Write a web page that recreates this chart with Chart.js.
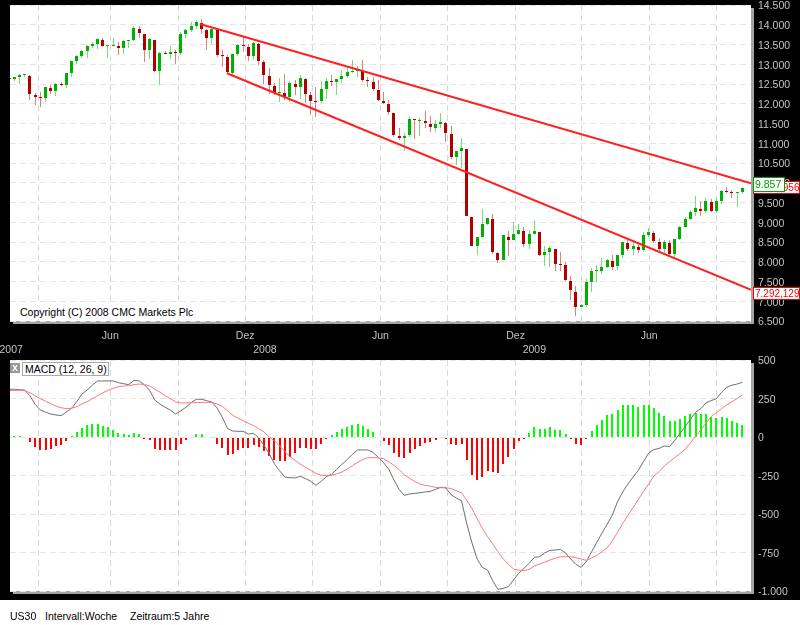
<!DOCTYPE html>
<html>
<head>
<meta charset="utf-8">
<title>US30</title>
<script src="https://cdn.jsdelivr.net/npm/chart.js@4"></script>
<style>
  html, body { margin: 0; padding: 0; width: 800px; height: 625px; overflow: hidden; background: #fff; }
  body { font-family: "Liberation Sans", sans-serif; font-size: 10.5px; color: #000; }
  #dark { position: absolute; left: 0; top: 0; width: 800px; height: 600px; background: #000; }
  canvas { position: absolute; left: 0; }
  #priceChart { top: 0; }
  #macdChart { top: 355px; }
  .txt { position: absolute; white-space: nowrap; }
  #copyright { left: 19px; top: 305px; padding: 0 2px 0 1px; background: #fff; font-size: 10.5px; line-height: 14px; }
  #macdClose { left: 10px; top: 363px; width: 10px; height: 10px; background: #999; color: #fff; font-size: 10px; line-height: 10px; text-align: center; font-weight: bold; }
  #macdName { left: 22px; top: 362px; height: 12px; line-height: 12px; padding: 0 1px 0 2px; background: #fff; border: 1px solid #aaa; }
  .foot { top: 610px; font-size: 10.5px; line-height: 13px; }
</style>
</head>
<body>
<div id="dark"></div>
<canvas id="priceChart" width="800" height="355"></canvas>
<canvas id="macdChart" width="800" height="245"></canvas>
<div class="txt" id="copyright">Copyright (C) 2008 CMC Markets Plc</div>
<div class="txt" id="macdClose">x</div>
<div class="txt" id="macdName">MACD (12, 26, 9)</div>
<div class="txt foot" style="left:10px">US30</div>
<div class="txt foot" style="left:45px">Intervall:Woche</div>
<div class="txt foot" style="left:130px">Zeitraum:5 Jahre</div>

<script>
// weekly candles
const opens = [12635,12627,12678,12728,12703,12222,12171,12146,12399,12323,12500,12475,12779,13083,13209,13336,13462,13513,13614,13462,13462,13462,13412,13589,13614,13893,13766,13361,13614,12830,13285,13260,13310,13285,13766,13867,13969,14045,13867,13665,13867,13235,13184,12779,13260,13488,13437,13209,13513,13057,12702,12449,12272,12272,12171,12500,12424,12627,12221,12070,12070,12373,12576,12551,12627,12702,12804,12829,12829,12601,12551,12348,12070,11994,11766,11183,11133,11209,11614,11563,11563,11487,11386,11487,11513,11234,10652,10804,10854,9125,8407,8635,8956,9082,8213,8053,8618,8551,8703,8770,8449,8703,8753,8171,8247,8314,7943,7918,7513,7234,6863,6897,7487,7766,7766,7867,8011,7892,8171,8475,8323,8373,8298,8669,8728,8492,8323,8475,8196,8576,8880,9082,9260,9335,9285,9513,9285,9538,9791,9766,9749,9766];
const closes = [12644,12678,12728,12754,12247,12171,12154,12424,12323,12500,12475,12779,13083,13209,13336,13462,13513,13640,13462,13488,13488,13412,13589,13614,13918,13792,13361,13640,12830,13285,13260,13310,13285,13766,13867,13969,14070,13893,13665,13893,13235,13209,12804,13260,13488,13462,13209,13538,13083,12728,12475,12272,12297,12171,12525,12424,12652,12247,12070,12044,12373,12576,12551,12627,12702,12804,12829,12854,12601,12576,12373,12095,12019,11791,11209,11133,11183,11614,11589,11589,11513,11411,11487,11538,11259,10652,10804,10880,9167,8407,8618,8947,9099,8255,8044,8669,8551,8694,8795,8458,8703,8770,8171,8238,8340,7952,7926,7538,7285,6863,6897,7487,7757,7791,7859,8044,7876,8163,8500,8323,8390,8298,8669,8753,8525,8323,8500,8196,8576,8880,9082,9260,9361,9285,9530,9285,9530,9791,9766,9749,9766,9857];
const highs = [12644,12678,12754,12754,12728,12273,12298,12424,12475,12526,12551,12779,13083,13235,13361,13488,13564,13665,13665,13488,13665,13564,13614,13614,13969,13969,13766,13665,13614,13310,13336,13462,13361,13817,13893,14070,14121,14146,13893,13893,13867,13361,13235,13260,13513,13716,13513,13564,13538,13107,12905,12525,12652,12753,12576,12601,12728,12652,12297,12424,12576,12652,12728,12627,12854,12930,13107,12956,13107,12677,12677,12601,12297,12095,11766,11386,11259,11665,11614,11639,11816,11690,11589,11766,11538,11437,10804,11133,10854,9125,8618,9327,9099,9209,8255,8686,8787,8998,8956,8888,8804,9049,8753,8399,8399,8331,8238,7994,7631,7378,6922,7563,7850,7918,8087,8078,8171,8179,8508,8551,8551,8508,8753,8846,8770,8593,8551,8551,8576,8905,9141,9310,9665,9530,9606,9580,9606,9817,9884,9817,9766,9892];
const lows = [12626,12576,12500,12678,12095,11969,11918,12045,12247,12197,12450,12399,12678,13007,13150,13159,13412,13386,13437,13159,13462,13235,13260,13412,13589,13665,13057,13133,12804,12475,13251,13133,13007,13235,13665,13817,13893,13766,13361,13513,13184,12931,12754,12728,13209,13311,13083,13108,12981,12500,12247,12221,12044,12095,12044,12221,12120,12019,11715,11665,12019,12120,12449,12221,12525,12652,12778,12677,12551,12424,12323,12070,11994,11715,11158,11082,10804,11158,11107,11183,11386,11285,11285,11386,11031,10601,10449,10373,9150,8407,8171,8618,8922,8196,7977,8044,8146,8551,8677,8365,8331,8703,8146,7892,7876,7774,7774,7521,7032,6635,6846,6846,7234,7487,7690,7833,7791,7791,8087,8281,8171,8230,8255,8618,8483,8264,8213,8112,8087,8542,8871,9049,9167,9158,9243,9268,9243,9471,9732,9622,9395,9724];

// channel lines, as [week, price] ends
const upperChannel = [[36.7, 14019], [142.67, 9986]];
const lowerChannel = [[41.9, 12771], [142.67, 7292]];
const upperLabel = "9.986,956";
const lowerLabel = "7.292,129";
const lastLabel = "9.857";

// macd panel
const macdLine = [310,310,307,305,268,212,175,162,149,143,139,162,186,229,279,305,336,364,364,364,364,353,346,340,368,364,340,305,240,214,193,175,149,169,193,223,245,245,236,227,188,128,56,39,37,37,19,24,-6,-52,-107,-173,-219,-260,-264,-266,-255,-270,-288,-314,-288,-258,-242,-210,-177,-147,-113,-84,-84,-84,-100,-132,-167,-208,-279,-340,-379,-370,-366,-362,-357,-353,-340,-327,-331,-375,-396,-414,-561,-686,-792,-847,-864,-933,-989,-983,-972,-929,-885,-853,-820,-782,-777,-753,-736,-734,-730,-753,-792,-827,-847,-808,-747,-686,-624,-567,-507,-420,-357,-305,-260,-217,-160,-104,-82,-74,-58,-63,-22,22,67,115,160,184,221,236,249,290,323,336,344,355];
const signalLine = [301,303,303,301,288,268,249,232,216,201,190,184,186,197,214,229,249,268,286,303,316,327,331,333,340,344,340,333,310,292,268,249,229,221,221,223,223,225,225,225,214,199,171,141,123,106,89,74,54,33,0,-24,-58,-93,-128,-152,-177,-197,-216,-236,-249,-249,-249,-240,-227,-208,-186,-165,-147,-134,-134,-136,-141,-160,-184,-212,-245,-268,-288,-305,-314,-320,-327,-329,-329,-335,-349,-362,-411,-463,-530,-593,-647,-695,-745,-790,-825,-857,-864,-868,-860,-838,-825,-812,-799,-788,-777,-777,-777,-784,-792,-801,-786,-769,-745,-719,-675,-619,-561,-509,-459,-405,-353,-305,-253,-225,-188,-160,-134,-108,-80,-39,4,45,89,132,158,184,208,229,249,273];
const histogram = [0,6,6,0,-32,-65,-84,-84,-78,-58,-52,-26,6,32,58,78,84,84,71,65,45,26,19,13,26,19,-13,-19,-78,-84,-84,-84,-84,-45,-19,0,19,19,0,0,-45,-71,-117,-110,-84,-71,-71,-52,-65,-93,-123,-149,-156,-156,-130,-104,-71,-71,-78,-78,-45,-13,13,32,52,65,78,84,71,52,32,0,-26,-52,-104,-130,-136,-104,-78,-58,-39,-32,-19,0,-6,-45,-52,-45,-149,-247,-279,-260,-221,-227,-234,-175,-130,-78,-26,-6,26,65,52,52,65,45,45,19,-6,-45,-52,-13,39,78,110,143,149,175,208,208,208,195,208,208,188,156,136,104,104,117,136,149,156,149,149,130,123,130,123,104,91,78];

// axis ticks
const priceTicks = [6500,7000,7500,8000,8500,9000,9500,10000,10500,11000,11500,12000,12500,13000,13500,14000,14500];
const macdTicks = [-1000,-750,-500,-250,0,250,500];
const quarterWeeks = [5.6,19.46,32.5,45.4,58.3,71.4,84.3,97.4,110.1,123.1,136.1];
const monthLabels = {19.46:"Jun",45.4:"Dez",71.4:"Jun",97.4:"Dez",123.1:"Jun"};
const yearLabels = {0.4:"2007",49.2:"2008",101:"2009"};

const xMin = 0.17, xMax = 142.67;
const labelGray = "#c4c4c4";

const deNumber = v => (v < 0 ? "-" : "") + String(Math.abs(v)).replace(/\B(?=(\d{3})+$)/g, ".");
const upColor = c => c === 1 ? "#00b000" : "#b00000";

const candleDir = opens.map((o, i) => closes[i] >= o ? 1 : 0);

// white plot area with the grey shadow on the right and bottom
const panelBack = {
  id: "panelBack",
  beforeDraw(chart) {
    const a = chart.chartArea, c = chart.ctx;
    c.save();
    c.fillStyle = "#a4a4a4";
    c.fillRect(a.left + 3, a.top + 3, a.right - a.left, a.bottom - a.top);
    c.fillStyle = "#fff";
    c.fillRect(a.left, a.top, a.right - a.left, a.bottom - a.top);
    c.restore();
  }
};

// keep the bars on whole pixels so they stay crisp
const snapBars = {
  id: "snapBars",
  afterDatasetsUpdate(chart) {
    chart.getSortedVisibleDatasetMetas().forEach(meta => {
      if (meta.type !== "bar") return;
      meta.data.forEach(el => {
        el.x = el.width % 2 ? Math.floor(el.x) + 0.5 : Math.round(el.x);
        el.y = Math.round(el.y);
        el.base = Math.round(el.base);
        if (el.y === el.base && el.$context.parsed.y !== 0) el.base = el.y + 1;
      });
    });
  }
};

// the value flags at the right edge of the price panel
const priceFlags = {
  id: "priceFlags",
  afterDraw(chart) {
    const c = chart.ctx, y = chart.scales.y;
    const flag = (x, top, w, h, txt, col, size) => {
      c.fillStyle = "#fff";
      c.fillRect(x, top, w, h);
      c.strokeStyle = col;
      c.lineWidth = 1;
      c.strokeRect(x + 0.5, top + 0.5, w - 1, h - 1);
      c.fillStyle = col;
      c.font = size + "px 'Liberation Sans'";
      c.textBaseline = "middle";
      c.fillText(txt, x + 2, top + h / 2 + 0.5);
    };
    c.save();
    flag(753, Math.floor(y.getPixelForValue(upperChannel[1][1]) - 2), 47, 13, upperLabel, "#ff0000", 10);
    flag(753, Math.floor(y.getPixelForValue(lowerChannel[1][1]) - 2), 47, 13, lowerLabel, "#ff0000", 10);
    flag(753, Math.round(y.getPixelForValue(closes[closes.length - 1]) - 11), 32, 15, lastLabel, "#00a000", 10.5);
    c.restore();
  }
};

const gridColor = "#e4e4e4";
const dash = { display: false, dash: [6, 4] };

function xAxis(tickList, labelFor) {
  return {
    type: "linear", min: xMin, max: xMax, offset: false,
    border: dash,
    grid: {
      offset: false, drawTicks: false,
      color: c => quarterWeeks.includes(c.tick && c.tick.value) ? "#d8d8d8" : "transparent"
    },
    afterBuildTicks(s) { s.ticks = tickList.map(v => ({ value: v })); },
    ticks: {
      color: labelGray, font: { family: "Liberation Sans", size: 10.5, lineHeight: 1.25 },
      autoSkip: false, maxRotation: 0, padding: 9,
      callback: labelFor
    }
  };
}

// the blank first line moves each label about 1.5px under its gridline, as in the original
function yAxis(tickList) {
  return {
    type: "linear", position: "right",
    border: dash,
    grid: { color: gridColor, drawTicks: false },
    afterBuildTicks(s) { s.ticks = tickList.map(v => ({ value: v })); },
    afterFit(s) { s.width = 49; s.paddingTop = 0; s.paddingBottom = 0; },
    ticks: {
      color: labelGray, font: { family: "Liberation Sans", size: 10.5, lineHeight: 0.28 },
      padding: 7, autoSkip: false, callback: v => ["", deNumber(v)]
    }
  };
}

const points = list => list.map(p => ({ x: p[0], y: p[1] }));
const byWeek = list => list.map((v, i) => ({ x: i, y: v }));

const priceX = xAxis(
  quarterWeeks.concat(Object.keys(yearLabels).map(Number)),
  v => yearLabels[v] ? ["", yearLabels[v]] : (monthLabels[v] || "")
);
priceX.afterFit = s => { s.height = 34; s.paddingLeft = 0; s.paddingRight = 0; };

new Chart(document.getElementById("priceChart"), {
  type: "bar",
  plugins: [panelBack, snapBars, priceFlags],
  data: {
    datasets: [
      { type: "line", data: points(upperChannel), borderColor: "#ff2020", borderWidth: 2, pointRadius: 0, order: 0 },
      { type: "line", data: points(lowerChannel), borderColor: "#ff2020", borderWidth: 2, pointRadius: 0, order: 0 },
      { data: opens.map((o, i) => ({ x: i, y: [o, closes[i]] })), barThickness: 3, grouped: false, order: 1,
        inflateAmount: 0, backgroundColor: candleDir.map(upColor) },
      { data: opens.map((o, i) => ({ x: i, y: [lows[i], highs[i]] })), barThickness: 1, grouped: false, order: 2,
        inflateAmount: 0, backgroundColor: candleDir.map(d => d ? "#78dc78" : "#dc8080") }
    ]
  },
  options: {
    responsive: false, animation: false, devicePixelRatio: 1,
    layout: { padding: { left: 10, top: 5, right: 0, bottom: 0 } },
    plugins: { legend: { display: false }, tooltip: { enabled: false } },
    scales: { x: priceX, y: Object.assign(yAxis(priceTicks), { min: 6500, max: 14500 }) }
  }
});

const macdX = xAxis(quarterWeeks, () => "");
macdX.ticks.display = false;
macdX.afterFit = s => { s.height = 9; s.paddingLeft = 0; s.paddingRight = 0; };

new Chart(document.getElementById("macdChart"), {
  type: "bar",
  plugins: [panelBack, snapBars],
  data: {
    datasets: [
      { type: "line", data: byWeek(signalLine), borderColor: "#ff7878", borderWidth: 1, pointRadius: 0, order: 0 },
      { type: "line", data: byWeek(macdLine), borderColor: "#707070", borderWidth: 1, pointRadius: 0, order: 0 },
      { data: byWeek(histogram), barThickness: 2, order: 1, inflateAmount: 0,
        backgroundColor: histogram.map(v => v >= 0 ? "#00ff00" : "#ff0000") }
    ]
  },
  options: {
    responsive: false, animation: false, devicePixelRatio: 1,
    layout: { padding: { left: 10, top: 5, right: 0, bottom: 0 } },
    plugins: { legend: { display: false }, tooltip: { enabled: false } },
    scales: { x: macdX, y: Object.assign(yAxis(macdTicks), { min: -1000, max: 500 }) }
  }
});
</script>
</body>
</html>
